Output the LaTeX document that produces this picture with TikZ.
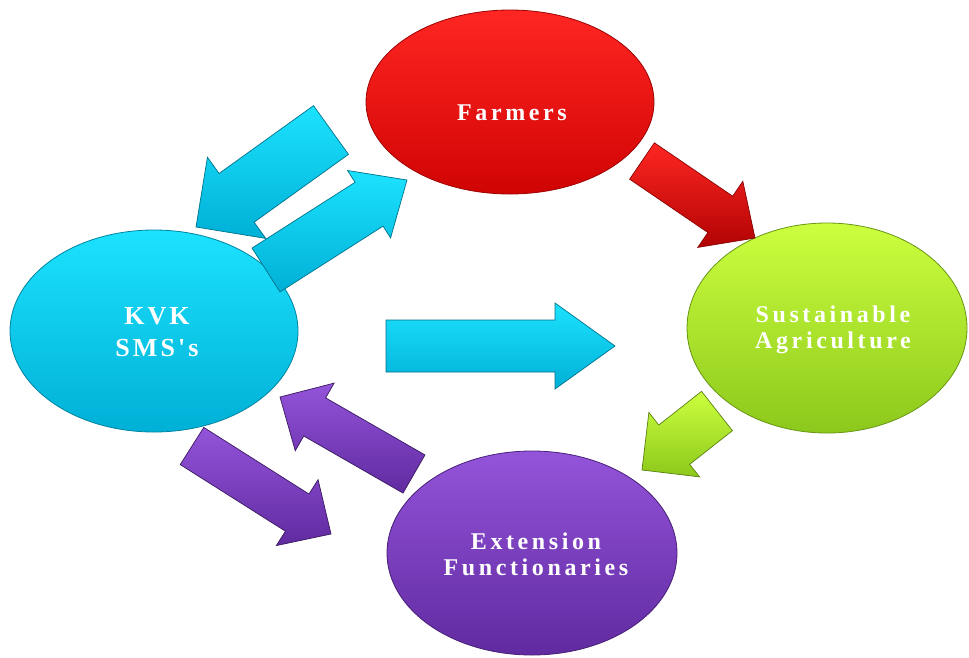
\documentclass[tikz,border=0pt]{standalone}
\usepackage{fontspec}
\setmainfont{Liberation Serif}
\newfontfamily\lblfont[LetterSpace=15]{Liberation Serif}
\newfontfamily\lblfontw[LetterSpace=12]{Liberation Serif}
\usetikzlibrary{calc,shapes.geometric}
\definecolor{redT}{RGB}{255,38,34}
\definecolor{redB}{RGB}{208,4,4}
\definecolor{cyanT}{RGB}{28,226,255}
\definecolor{cyanB}{RGB}{0,176,214}
\definecolor{grnT}{RGB}{204,255,62}
\definecolor{grnB}{RGB}{140,200,28}
\definecolor{purT}{RGB}{148,84,218}
\definecolor{purB}{RGB}{96,42,160}
\tikzset{
  bubble/.style={ellipse, inner sep=0pt, line width=0.8pt},
  redbub/.style={bubble, top color=redT, bottom color=redB, draw=redB!75!black},
  cyanbub/.style={bubble, top color=cyanT, bottom color=cyanB, draw=cyanB!75!black},
  grnbub/.style={bubble, top color=grnT, bottom color=grnB, draw=grnB!75!black},
  purbub/.style={bubble, top color=purT, bottom color=purB, draw=purB!75!black},
  lbl/.style={text=white, align=center, inner sep=0pt},
  arrbase/.style={line width=0.7pt, line join=miter},
  redarr/.style={arrbase, top color=redT, bottom color=redB!85!black, draw=redB!65!black},
  cyanarr/.style={arrbase, top color=cyanT, bottom color=cyanB, draw=cyanB!65!black},
  grnarr/.style={arrbase, top color=grnT, bottom color=grnB, draw=grnB!65!black},
  purarr/.style={arrbase, top color=purT, bottom color=purB, draw=purB!60!black},
}
% #1 name (uses coordinates #1-t tail and #1-p tip), #2 style, #3 shaft half width, #4 head half width, #5 head length
\newcommand\blockarrow[5]{%
  \coordinate (#1-h) at ($(#1-p)!#5!(#1-t)$);
  \path[#2] ($(#1-t)!#3!90:(#1-p)$) -- ($(#1-h)!#3!90:(#1-p)$) -- ($(#1-h)!#4!90:(#1-p)$)
    -- (#1-p) -- ($(#1-h)!#4!-90:(#1-p)$) -- ($(#1-h)!#3!-90:(#1-p)$)
    -- ($(#1-t)!#3!-90:(#1-p)$) -- cycle;
}
\begin{document}
\begin{tikzpicture}[x=1pt, y=-1pt]
\useasboundingbox[fill=white] (0,0) rectangle (969,657);

% bubbles
\node[redbub, minimum width=288pt, minimum height=184pt] (farm) at (510,102) {};
\node[cyanbub, minimum width=288pt, minimum height=202pt] (kvk) at (154,331) {};
\node[grnbub, minimum width=280pt, minimum height=210pt] (sust) at (827,328) {};
\node[purbub, minimum width=290pt, minimum height=204pt] (ext) at (532,553) {};

% arrow end points
\coordinate (a1-t) at (331,130); \coordinate (a1-p) at (196,227);
\coordinate (a2-t) at (266,270); \coordinate (a2-p) at (407,180);
\coordinate (a3-t) at (386,346); \coordinate (a3-p) at (615,346);
\coordinate (a4-t) at (642,161); \coordinate (a4-p) at (755,238);
\coordinate (a5-t) at (717,411); \coordinate (a5-p) at (642,470);
\coordinate (a6-t) at (192,446); \coordinate (a6-p) at (331,534);
\coordinate (a7-t) at (414,474); \coordinate (a7-p) at (280,397);

\blockarrow{a1}{cyanarr}{30pt}{50pt}{50pt}
\blockarrow{a2}{cyanarr}{26pt}{40pt}{45pt}
\blockarrow{a3}{cyanarr}{26pt}{43pt}{60pt}
\blockarrow{a4}{redarr}{22pt}{40pt}{42pt}
\blockarrow{a5}{grnarr}{25pt}{41pt}{41pt}
\blockarrow{a6}{purarr}{22pt}{39pt}{40pt}
\blockarrow{a7}{purarr}{22pt}{39pt}{40pt}

% labels
\node[lbl, font=\lblfont\bfseries\fontsize{24}{26}\selectfont] (farmT) at (512,112.5) {Farmers};
\node[lbl, font=\lblfontw\bfseries\fontsize{26}{32}\selectfont] (kvkT) at (157,332.5) {KVK\\SMS's};
\node[lbl, font=\lblfont\bfseries\fontsize{24}{26}\selectfont] (sustT) at (833,330) {Sustainable\\Agriculture};
\node[lbl, font=\lblfont\bfseries\fontsize{24}{26}\selectfont] (extT) at (536,554.5) {Extension\\Functionaries};
\end{tikzpicture}
\end{document}
